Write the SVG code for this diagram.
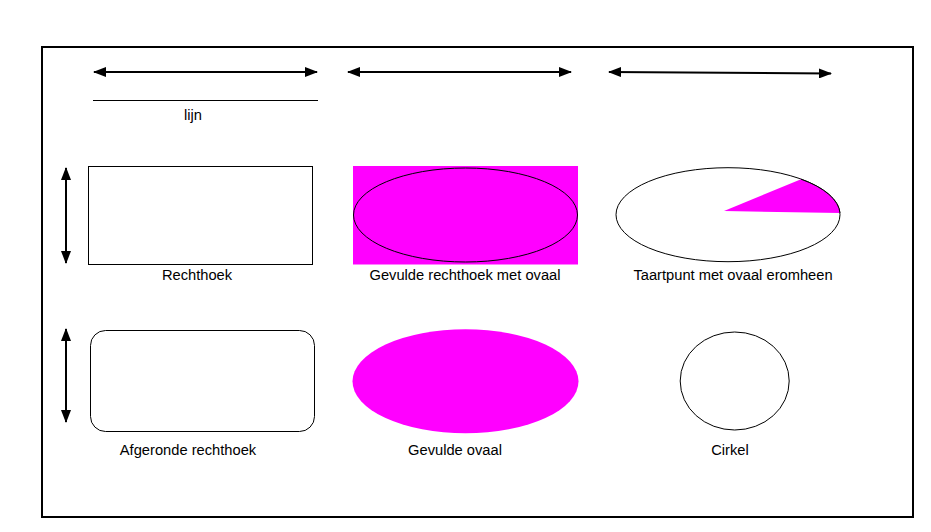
<svg xmlns="http://www.w3.org/2000/svg" width="931" height="532" viewBox="0 0 931 532">
<style>
  text { font-family: "Liberation Sans", Arial, sans-serif; font-size: 14.7px; fill: #000; text-anchor: middle; }
  .shape { fill: #fff; stroke: #000; stroke-width: 1; }
  .pink { fill: #ff00ff; stroke: none; }
  .arrow { stroke: #000; stroke-width: 2; fill: none; marker-start: url(#head); marker-end: url(#head); }
</style>
<defs>
  <marker id="head" markerUnits="userSpaceOnUse" viewBox="0 0 13 10" refX="12" refY="5" markerWidth="13" markerHeight="10" orient="auto-start-reverse">
    <path d="M0,0 L13,5 L0,10 Z" fill="#000"/>
  </marker>
</defs>
<rect x="0" y="0" width="931" height="532" fill="#fff"/>
<rect id="frame" x="42" y="47" width="871" height="470" fill="none" stroke="#000" stroke-width="2"/>

<g id="connectors">
  <line class="arrow" x1="94" y1="72" x2="317" y2="72"/>
  <line class="arrow" x1="348" y1="72" x2="571" y2="72"/>
  <line class="arrow" x1="609" y1="72" x2="831" y2="73.5"/>
  <line class="arrow" x1="66" y1="168" x2="66" y2="263"/>
  <line class="arrow" x1="66" y1="329" x2="66" y2="422"/>
</g>

<g id="lijn">
  <line x1="93" y1="100.5" x2="318" y2="100.5" stroke="#000" stroke-width="1"/>
  <text x="193" y="119.5">lijn</text>
</g>

<g id="rechthoek">
  <rect class="shape" x="88.5" y="166.5" width="224" height="98"/>
  <text x="197" y="279.5">Rechthoek</text>
</g>

<g id="gevulde-rechthoek">
  <rect class="pink" x="353" y="166" width="225" height="98.5"/>
  <ellipse cx="465.5" cy="215" rx="112" ry="47" fill="none" stroke="#000" stroke-width="1"/>
  <text x="465" y="279.5">Gevulde rechthoek met ovaal</text>
</g>

<g id="taartpunt">
  <ellipse class="shape" cx="728" cy="214.7" rx="112" ry="47"/>
  <path class="pink" d="M724,211 L801,179.2 A112,47 0 0,1 840,213 Z"/>
  <path d="M801,179.2 A112,47 0 0,1 840,213" fill="none" stroke="#000" stroke-width="1"/>
  <text x="733" y="279.5">Taartpunt met ovaal eromheen</text>
</g>

<g id="afgeronde-rechthoek">
  <rect class="shape" x="90.5" y="330.5" width="224" height="101" rx="15" ry="15"/>
  <text x="188" y="455">Afgeronde rechthoek</text>
</g>

<g id="gevulde-ovaal">
  <ellipse class="pink" cx="465.5" cy="381.3" rx="113" ry="52"/>
  <text x="455" y="455">Gevulde ovaal</text>
</g>

<g id="cirkel">
  <ellipse class="shape" cx="734.7" cy="381" rx="54.5" ry="49"/>
  <text x="730" y="455">Cirkel</text>
</g>
</svg>
